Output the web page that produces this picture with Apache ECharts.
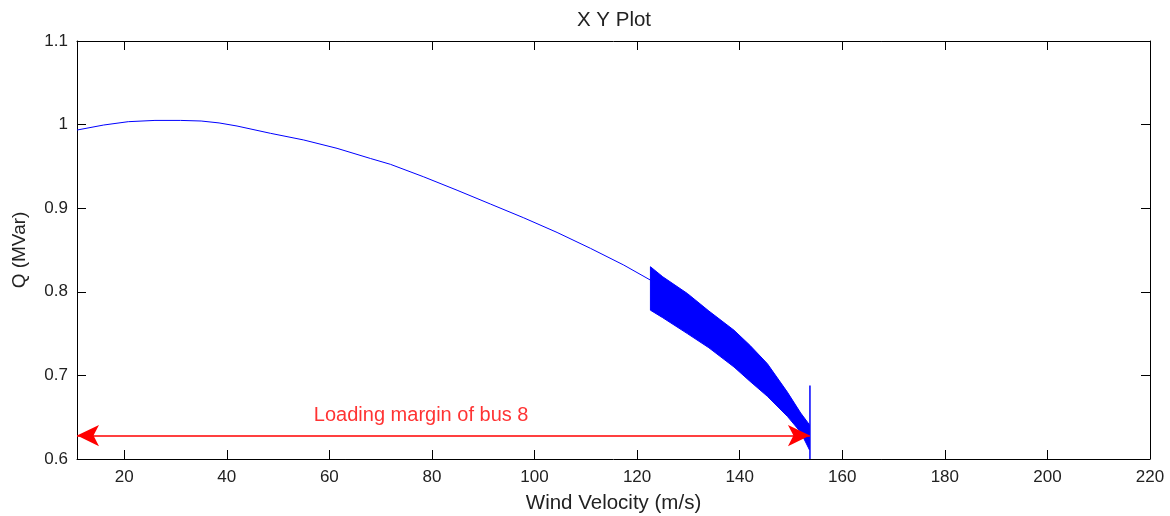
<!DOCTYPE html>
<html><head><meta charset="utf-8">
<script src="https://cdn.jsdelivr.net/npm/echarts@6/dist/echarts.min.js"></script>
<style>html,body{margin:0;padding:0;background:#fff}#c{width:1170px;height:516px}</style>
</head><body><div id="c"></div>
<script>
// Smooth part of the Q-V curve
const curveX = [10.8, 16, 20.8, 26, 31, 35, 38.5, 42, 48.5, 55, 61.5, 68, 71.9, 78.4, 84.9, 91.4, 97.9, 104.4, 110.9, 117.4, 122.6];
const curveY = [0.9935, 0.9995, 1.0035, 1.005, 1.005, 1.0043, 1.002, 0.9983, 0.9896, 0.9816, 0.9716, 0.9595, 0.9525, 0.9375, 0.9215, 0.905, 0.8885, 0.871, 0.852, 0.832, 0.814];
// Oscillating band (envelope)
const bandX     = [122.6, 125, 129.8, 134, 138.9, 142, 145.4, 149.3, 151.9, 153.6];
const bandUpper = [0.830, 0.818, 0.798, 0.777, 0.754, 0.736, 0.714, 0.680, 0.655, 0.641];
const bandLower = [0.778, 0.769, 0.750, 0.733, 0.710, 0.693, 0.675, 0.651, 0.632, 0.611];
// Final spike
const spikeX = [153.7, 153.7];
const spikeY = [0.6, 0.688];
// Annotation
const arrowX = [10.8, 153.7];
const arrowY = 0.628;
const noteText = 'Loading margin of bus 8';
const notePos = [77.9, 0.652];
// Ticks
const xTicks = [20, 40, 60, 80, 100, 120, 140, 160, 180, 200, 220];
const yTicks = [0.6, 0.7, 0.8, 0.9, 1.0, 1.1];
const xRange = [10.8, 220];
const yRange = [0.6, 1.1];

const BLUE = '#0000ff', RED = '#ff0000', AX = '#000', TXT = '#222';
const FONT = 'Liberation Sans, Arial, sans-serif';

const zip = (xs, ys) => xs.map((x, i) => [x, ys[i]]);

function xAx(pos, withLabel) {
  return {
    type: 'value', position: pos, min: xRange[0], max: xRange[1],
    axisLine: { show: true, onZero: false, lineStyle: { color: AX, width: 1 } },
    axisTick: { show: true, inside: true, length: 9, customValues: xTicks, lineStyle: { color: AX } },
    axisLabel: { show: withLabel, customValues: xTicks, margin: 10, fontSize: 17, color: TXT, fontFamily: FONT },
    splitLine: { show: false },
    name: withLabel ? 'Wind Velocity (m/s)' : '', nameLocation: 'middle', nameGap: 34,
    nameTextStyle: { fontSize: 20.5, color: TXT, fontFamily: FONT }
  };
}
function yAx(pos, withLabel) {
  return {
    type: 'value', position: pos, min: yRange[0], max: yRange[1],
    axisLine: { show: true, onZero: false, lineStyle: { color: AX, width: 1 } },
    axisTick: { show: true, inside: true, length: 9, customValues: yTicks, lineStyle: { color: AX } },
    axisLabel: { show: withLabel, customValues: yTicks, margin: 9, fontSize: 17, color: TXT, fontFamily: FONT,
      formatter: v => String(+(+v).toFixed(1)) },
    splitLine: { show: false },
    name: withLabel ? 'Q (MVar)' : '', nameLocation: 'middle', nameGap: 48,
    nameTextStyle: { fontSize: 19, color: TXT, fontFamily: FONT }
  };
}

const chart = echarts.init(document.getElementById('c'), null, { renderer: 'canvas' });
chart.setOption({
  animation: false,
  backgroundColor: '#fff',
  title: { text: 'X Y Plot', left: 609, top: 5, textAlign: 'center',
    textStyle: { fontSize: 20.5, fontWeight: 'normal', color: TXT, fontFamily: FONT } },
  grid: { left: 77, right: 20, top: 41, bottom: 57, containLabel: false, outerBoundsMode: 'none' },
  xAxis: [xAx('bottom', true), xAx('top', false)],
  yAxis: [yAx('left', true), yAx('right', false)],
  series: [
    { type: 'line', data: zip(curveX, curveY), showSymbol: false, symbol: 'none',
      lineStyle: { color: BLUE, width: 1 }, z: 3 },
    { type: 'custom', coordinateSystem: 'cartesian2d', z: 3,
      data: bandX.map((x, i) => [x, bandLower[i], bandUpper[i]]),
      encode: { x: 0, y: [1, 2] },
      renderItem: function (params, api) {
        if (params.dataIndex !== 0) return;
        const pts = [];
        for (let i = 0; i < bandX.length; i++) pts.push(api.coord([bandX[i], bandUpper[i]]));
        for (let i = bandX.length - 1; i >= 0; i--) pts.push(api.coord([bandX[i], bandLower[i]]));
        return { type: 'polygon', shape: { points: pts }, style: { fill: BLUE, stroke: BLUE, lineWidth: 1 } };
      } },
    { type: 'line', data: zip(spikeX, spikeY), symbol: 'none',
      lineStyle: { color: BLUE, width: 1.5 }, z: 3 },
    { type: 'line', data: [], symbol: 'none', z: 5, color: RED, itemStyle: { color: RED },
      markLine: {
        silent: true, animation: false,
        symbol: ['arrow', 'arrow'], symbolSize: [16, 22],
        itemStyle: { color: RED },
        lineStyle: { color: RED, width: 1.5, type: 'solid', opacity: 1 },
        label: { show: false },
        data: [[{ coord: [arrowX[0], arrowY], lineStyle: { color: RED } }, { coord: [arrowX[1], arrowY] }]]
      } },
    { type: 'scatter', data: [notePos], symbolSize: 0, z: 6,
      label: { show: true, position: 'inside', formatter: noteText, color: RED, fontSize: 20, fontFamily: FONT } }
  ]
});
</script>
</body></html>
